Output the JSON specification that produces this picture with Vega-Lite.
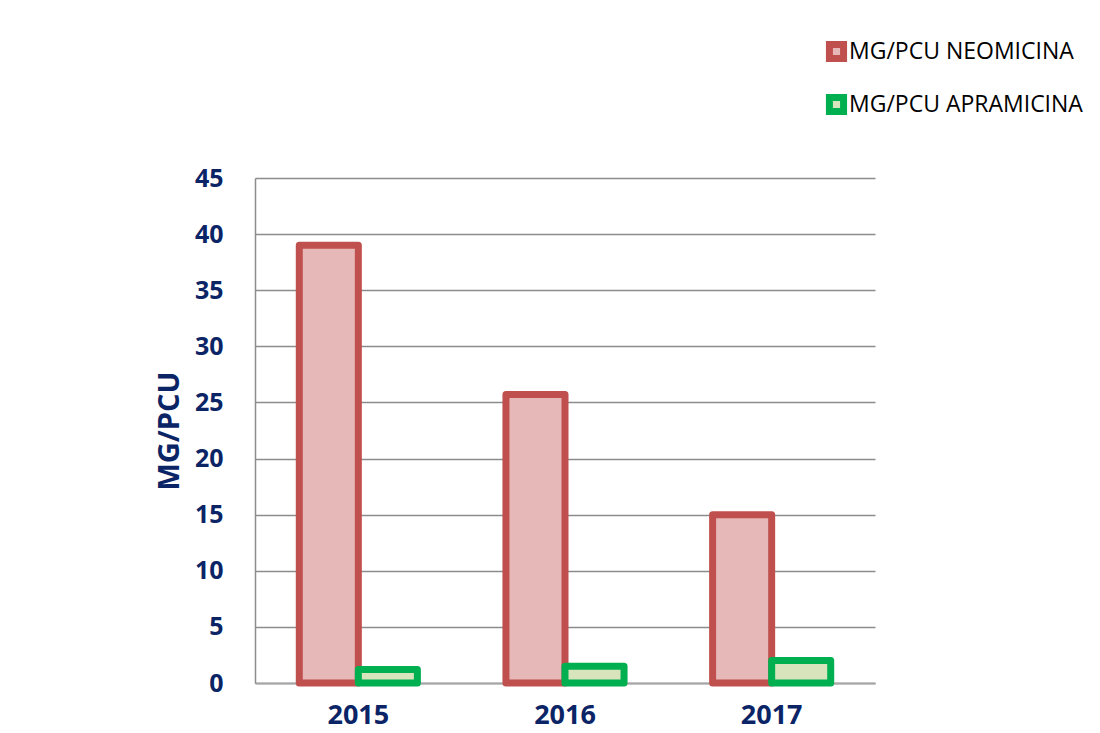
{
  "$schema": "https://vega.github.io/schema/vega-lite/v6.json",
  "width": 620,
  "height": 505,
  "autosize": "none",
  "padding": {"left": 255, "top": 178, "right": 225, "bottom": 50},
  "background": "white",
  "data": {
    "values": [
      {"year": "2015", "serie": "MG/PCU NEOMICINA", "value": 39.0},
      {"year": "2015", "serie": "MG/PCU APRAMICINA", "value": 1.2},
      {"year": "2016", "serie": "MG/PCU NEOMICINA", "value": 25.7},
      {"year": "2016", "serie": "MG/PCU APRAMICINA", "value": 1.5},
      {"year": "2017", "serie": "MG/PCU NEOMICINA", "value": 15.0},
      {"year": "2017", "serie": "MG/PCU APRAMICINA", "value": 2.0}
    ]
  },
  "mark": {"type": "bar", "strokeWidth": 7, "strokeJoin": "round"},
  "encoding": {
    "x": {
      "field": "year", "type": "nominal",
      "scale": {"paddingInner": 0, "paddingOuter": 0},
      "axis": {
        "title": null, "labelAngle": 0, "ticks": false,
        "domainColor": "#a6a6a6", "domainWidth": 2,
        "labelFont": "Open Sans", "labelFontWeight": "bold", "labelFontSize": 27,
        "labelColor": "#0B2466", "labelPadding": 19
      }
    },
    "xOffset": {
      "field": "serie", "type": "nominal",
      "sort": ["MG/PCU NEOMICINA", "MG/PCU APRAMICINA"],
      "scale": {"paddingOuter": 0.75, "paddingInner": 0}
    },
    "y": {
      "field": "value", "type": "quantitative",
      "scale": {"domain": [0, 45], "nice": false},
      "axis": {
        "title": "MG/PCU", "values": [0, 5, 10, 15, 20, 25, 30, 35, 40, 45],
        "ticks": false, "domainColor": "#8c8c8c", "domainWidth": 1.5,
        "gridColor": "#8c8c8c", "gridWidth": 1.5,
        "labelFont": "Open Sans", "labelFontWeight": "bold", "labelFontSize": 25,
        "labelColor": "#0B2466", "labelPadding": 32,
        "titleFont": "Open Sans", "titleFontWeight": "bold", "titleFontSize": 29,
        "titleColor": "#0B2466", "titlePadding": 10
      }
    },
    "fill": {
      "field": "serie", "type": "nominal",
      "sort": ["MG/PCU NEOMICINA", "MG/PCU APRAMICINA"],
      "scale": {"domain": ["MG/PCU NEOMICINA", "MG/PCU APRAMICINA"], "range": ["#E6B9B8", "#D8E4BC"]},
      "legend": {
        "title": null, "orient": "none", "legendX": 570, "legendY": -138,
        "symbolType": "square", "symbolSize": 200, "symbolStrokeWidth": 7,
        "labelFont": "Open Sans", "labelFontSize": 23, "labelColor": "#000000",
        "labelOffset": 1, "rowPadding": 10, "labelLimit": 0
      }
    },
    "stroke": {
      "field": "serie", "type": "nominal",
      "sort": ["MG/PCU NEOMICINA", "MG/PCU APRAMICINA"],
      "scale": {"domain": ["MG/PCU NEOMICINA", "MG/PCU APRAMICINA"], "range": ["#C0504D", "#00B050"]}
    }
  },
  "config": {"view": {"stroke": null}}
}
